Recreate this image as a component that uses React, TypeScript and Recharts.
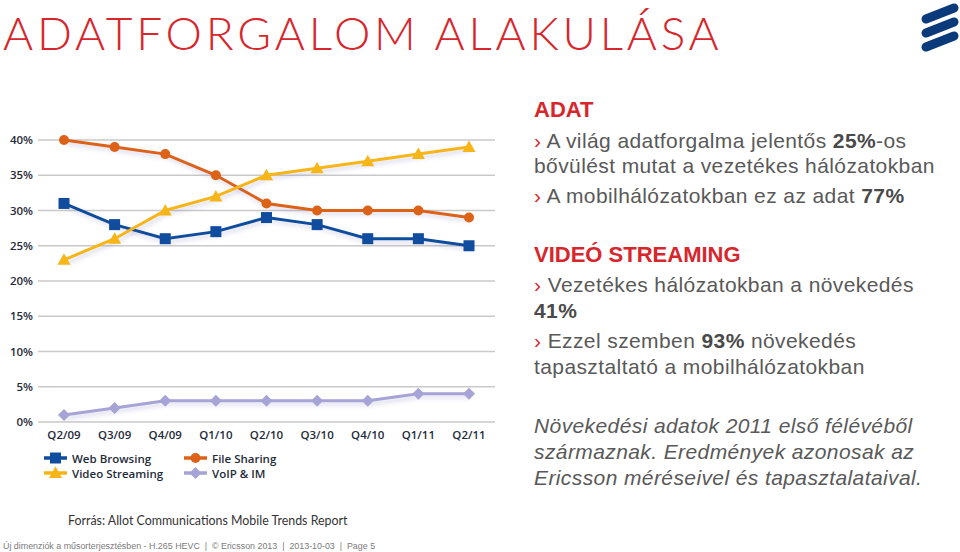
import React from "react";
import { CartesianGrid, Line, LineChart, XAxis, YAxis } from "recharts";

const categories = ["Q2/09", "Q3/09", "Q4/09", "Q1/10", "Q2/10", "Q3/10", "Q4/10", "Q1/11", "Q2/11"];
const webBrowsing = [31, 28, 26, 27, 29, 28, 26, 26, 25];
const fileSharing = [40, 39, 38, 35, 31, 30, 30, 30, 29];
const videoStreaming = [23, 26, 30, 32, 35, 36, 37, 38, 39];
const voipIm = [1, 2, 3, 3, 3, 3, 3, 4, 4];
const yTicks = [0, 5, 10, 15, 20, 25, 30, 35, 40];

type Shape = "square" | "circle" | "triangle" | "diamond";

const series: Array<{ key: string; name: string; color: string; shape: Shape; values: number[] }> = [
  { key: "web", name: "Web Browsing", color: "#114d9e", shape: "square", values: webBrowsing },
  { key: "file", name: "File Sharing", color: "#dc6218", shape: "circle", values: fileSharing },
  { key: "video", name: "Video Streaming", color: "#f8b517", shape: "triangle", values: videoStreaming },
  { key: "voip", name: "VoIP & IM", color: "#a6a3d6", shape: "diamond", values: voipIm },
];

const data = categories.map((label, i) => {
  const row: Record<string, string | number> = { label };
  series.forEach((s) => {
    row[s.key] = s.values[i];
  });
  return row;
});

const tickFont = { fontFamily: "'Open Sans', sans-serif", fontWeight: 600, fontSize: 11.5, fill: "#1f2b3a" };

function Marker({ shape, color, cx, cy }: { shape: Shape; color: string; cx: number; cy: number }) {
  if (shape === "square") return <rect x={cx - 5.5} y={cy - 5.5} width={11} height={11} fill={color} />;
  if (shape === "circle") return <circle cx={cx} cy={cy} r={5} fill={color} />;
  if (shape === "triangle")
    return <polygon points={`${cx},${cy - 6.5} ${cx + 6.5},${cy + 5} ${cx - 6.5},${cy + 5}`} fill={color} />;
  return <polygon points={`${cx},${cy - 6} ${cx + 6},${cy} ${cx},${cy + 6} ${cx - 6},${cy}`} fill={color} />;
}

function makeDot(shape: Shape, color: string) {
  return (props: any) => (
    <Marker key={`${shape}-${props.index}`} shape={shape} color={color} cx={props.cx} cy={props.cy} />
  );
}

const body = {
  fontFamily: "'Liberation Sans', Arial, sans-serif",
  fontSize: 21,
  letterSpacing: 0.4,
  color: "#595959",
  lineHeight: "24px",
};
const red = "#d7262c";

function TextLine({ top, children, style }: { top: number; children: React.ReactNode; style?: React.CSSProperties }) {
  return (
    <div style={{ position: "absolute", left: 534, top: top - 19, whiteSpace: "nowrap", ...body, ...style }}>
      {children}
    </div>
  );
}

const Chev = () => <span style={{ color: red }}>› </span>;
const B = ({ children }: { children: React.ReactNode }) => <b style={{ color: "#4a4a4a" }}>{children}</b>;

export default function App() {
  return (
    <div style={{ position: "absolute", left: 0, top: 0, width: 960, height: 552, background: "#fff", overflow: "hidden" }}>
      <div
        style={{
          position: "absolute",
          left: 3,
          top: 5,
          fontFamily: "Lato, sans-serif",
          fontWeight: 300,
          fontSize: 46,
          letterSpacing: 3.8,
          color: red,
          whiteSpace: "nowrap",
        }}
      >
        ADATFORGALOM ALAKULÁSA
      </div>

      <svg style={{ position: "absolute", left: 915, top: 0 }} width={45} height={56}>
        <g stroke="#0b3a7a" strokeWidth={9} strokeLinecap="round">
          <line x1={11} y1={19} x2={39} y2={8} />
          <line x1={11} y1={33} x2={39} y2={22} />
          <line x1={11} y1={47} x2={39} y2={36} />
        </g>
      </svg>

      <div style={{ position: "absolute", left: 0, top: 130 }}>
        <LineChart width={500} height={360} data={data} margin={{ top: 10, right: 5, bottom: 38, left: 0 }}>
          <defs>
            <filter id="lineShadow" x="-10%" y="-30%" width="120%" height="160%">
              <feDropShadow dx="2" dy="3" stdDeviation="2" floodColor="#6a60b0" floodOpacity="0.25" />
            </filter>
          </defs>
          <CartesianGrid horizontal vertical={false} stroke="#c9c9c9" strokeWidth={1.5} />
          <XAxis
            dataKey="label"
            scale="point"
            padding={{ left: 26, right: 26 }}
            axisLine={false}
            tickLine={false}
            tickSize={0}
            tickMargin={9}
            height={30}
            interval={0}
            tick={tickFont}
          />
          <YAxis
            domain={[0, 40]}
            ticks={yTicks}
            width={38}
            axisLine={false}
            tickLine={false}
            tickSize={0}
            tickMargin={5}
            tickFormatter={(v: number) => `${v}%`}
            tick={tickFont}
          />
          {series.map((s) => (
            <Line
              key={s.key}
              dataKey={s.key}
              name={s.name}
              type="linear"
              stroke={s.color}
              strokeWidth={3}
              filter="url(#lineShadow)"
              dot={makeDot(s.shape, s.color)}
              activeDot={false}
              isAnimationActive={false}
            />
          ))}
        </LineChart>
      </div>

      {series.map((s, i) => (
        <div
          key={s.key}
          style={{
            position: "absolute",
            left: i % 2 === 0 ? 44 : 184,
            top: i < 2 ? 450 : 465,
            display: "flex",
            alignItems: "center",
            fontFamily: "'Open Sans', sans-serif",
            fontWeight: 600,
            fontSize: 11.5,
            color: "#1f2b3a",
            whiteSpace: "nowrap",
          }}
        >
          <svg width={23} height={16} style={{ marginRight: 5 }}>
            <line x1={0} y1={8} x2={23} y2={8} stroke={s.color} strokeWidth={3.5} />
            <Marker shape={s.shape} color={s.color} cx={11.5} cy={8} />
          </svg>
          {s.name}
        </div>
      ))}

      <TextLine top={117} style={{ color: red, fontWeight: 700, fontSize: 22, letterSpacing: 0 }}>ADAT</TextLine>
      <TextLine top={148}><Chev />A világ adatforgalma jelentős <B>25%</B>-os</TextLine>
      <TextLine top={173}>bővülést mutat a vezetékes hálózatokban</TextLine>
      <TextLine top={203}><Chev />A mobilhálózatokban ez az adat <B>77%</B></TextLine>
      <TextLine top={262} style={{ color: red, fontWeight: 700, fontSize: 22, letterSpacing: 0 }}>VIDEÓ STREAMING</TextLine>
      <TextLine top={292}><Chev />Vezetékes hálózatokban a növekedés</TextLine>
      <TextLine top={318}><B>41%</B></TextLine>
      <TextLine top={348}><Chev />Ezzel szemben <B>93%</B>  növekedés</TextLine>
      <TextLine top={374}>tapasztaltató a mobilhálózatokban</TextLine>

      <TextLine top={433} style={{ fontStyle: "italic" }}>Növekedési adatok 2011 első félévéből</TextLine>
      <TextLine top={459} style={{ fontStyle: "italic" }}>származnak. Eredmények azonosak az</TextLine>
      <TextLine top={485} style={{ fontStyle: "italic" }}>Ericsson méréseivel és tapasztalataival.</TextLine>

      <div
        style={{
          position: "absolute",
          left: 68,
          top: 513,
          fontFamily: "Lato, sans-serif",
          fontSize: 12.4,
          color: "#333",
          whiteSpace: "nowrap",
        }}
      >
        Forrás: Allot Communications Mobile Trends Report
      </div>
      <div
        style={{
          position: "absolute",
          left: 3,
          top: 541,
          fontFamily: "'Liberation Sans', Arial, sans-serif",
          fontSize: 8.9,
          color: "#7a7a7a",
          whiteSpace: "pre",
        }}
      >
        {"Új dimenziók a műsorterjesztésben - H.265 HEVC  |  © Ericsson 2013  |  2013-10-03  |  Page 5"}
      </div>
    </div>
  );
}
